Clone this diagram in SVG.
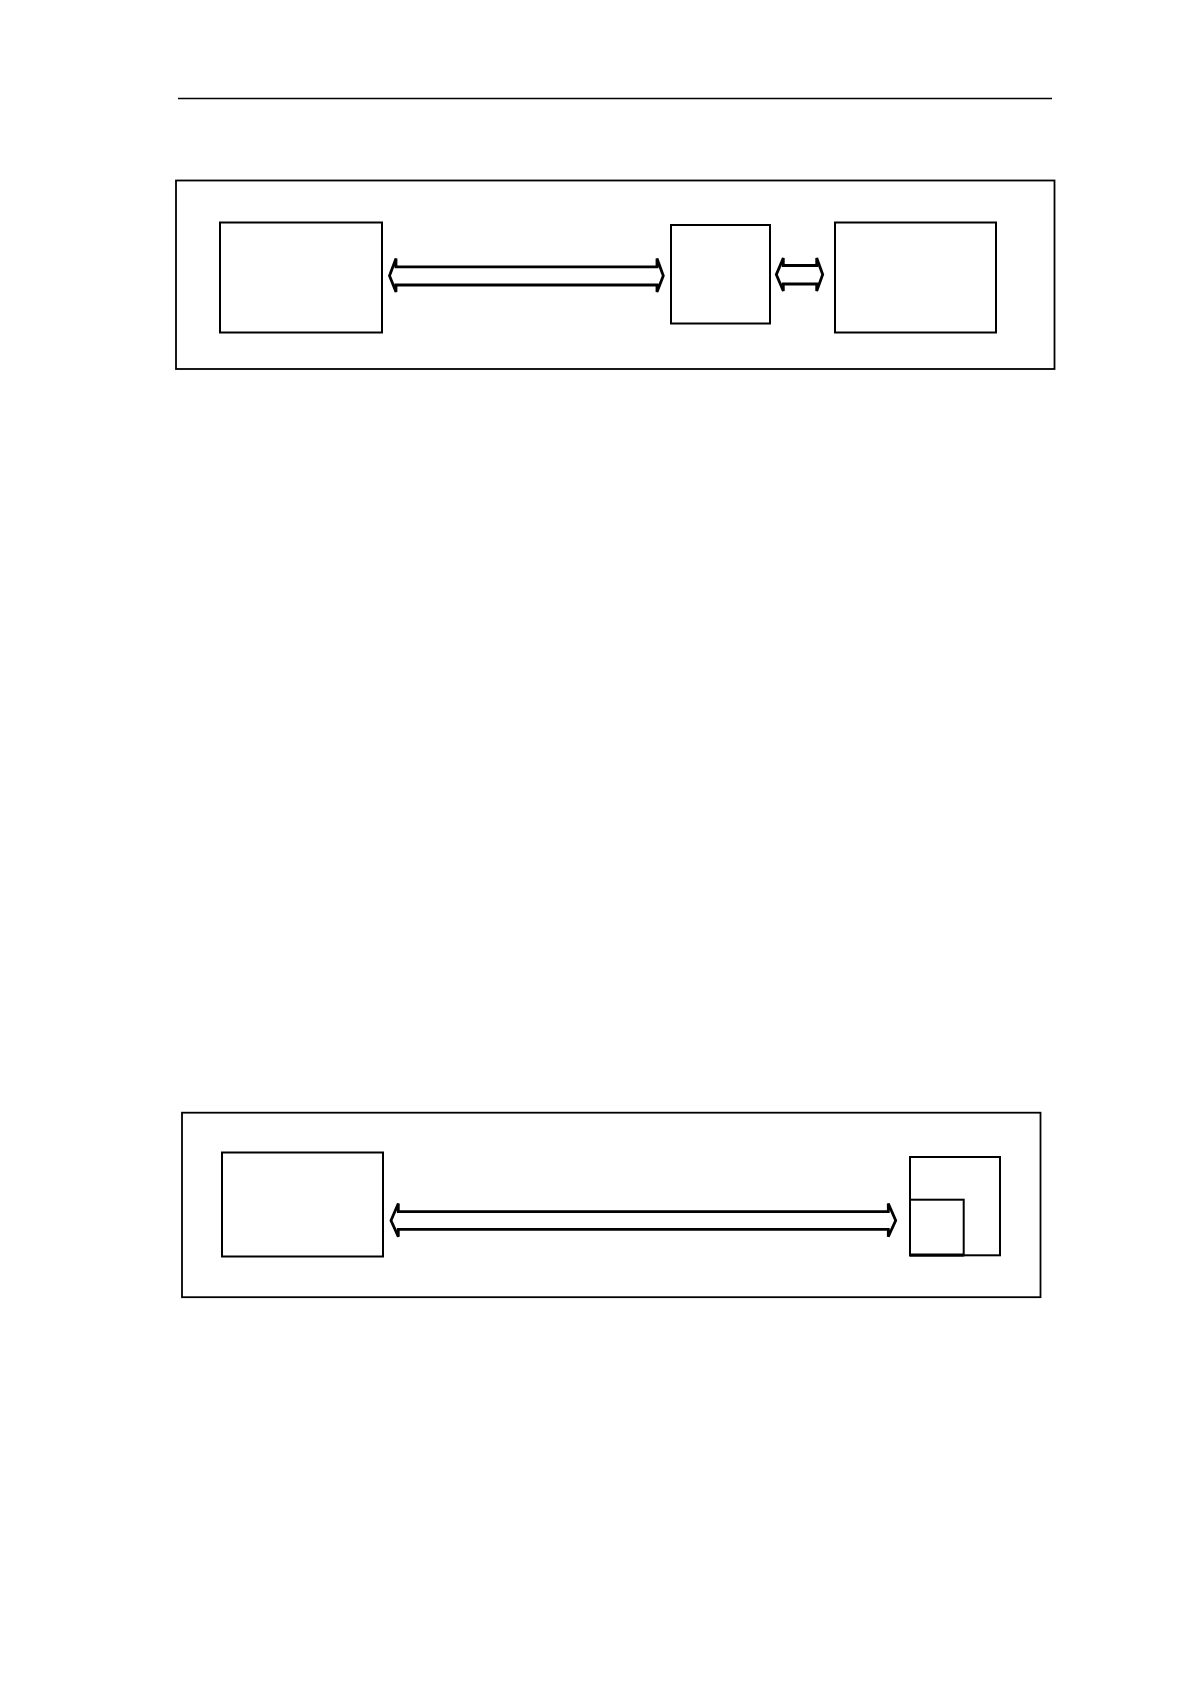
<svg xmlns="http://www.w3.org/2000/svg" width="1190" height="1684" viewBox="0 0 1190 1684">
<style>
.frame{fill:none;stroke:#000;stroke-width:1.8}
.box{fill:none;stroke:#000;stroke-width:2}
.arrow{fill:#fff;stroke:#000;stroke-width:2.8;stroke-linejoin:miter}
</style>
<rect width="1190" height="1684" fill="#fff"/>
<line x1="178" y1="98.5" x2="1052" y2="98.5" stroke="#000" stroke-width="1.4"/>
<g id="frame-top"><rect class="frame" x="176" y="180.5" width="878.5" height="188.5"/></g>
<g id="node-a"><rect class="box" x="220" y="222.5" width="162" height="110"/></g>
<g id="node-b"><rect class="box" x="671" y="225" width="99" height="98.5"/></g>
<g id="node-c"><rect class="box" x="835" y="222.5" width="161" height="110"/></g>
<g id="frame-bottom"><rect class="frame" x="182" y="1112.7" width="858.5" height="184.5"/></g>
<g id="node-d"><rect class="box" x="222" y="1152.5" width="161" height="104"/></g>
<g id="node-e">
<rect class="box" x="910" y="1157" width="90" height="98.3"/>
<rect class="box" x="910" y="1199.7" width="53.7" height="55.6"/>
<line x1="910" y1="1255" x2="963.7" y2="1255" stroke="#000" stroke-width="3.2"/>
</g>
<g id="connectors">
<path class="arrow" d="M389.5,275.8 L396,258.5 L396,266.8 L657,266.8 L657,258.5 L663.3,275.8 L657,292 L657,285 L396,285 L396,292 Z"/>
<path class="arrow" d="M776.3,274.6 L783.3,258 L783.3,265.5 L816.7,265.5 L816.7,258 L822.7,274.6 L816.7,291 L816.7,284 L783.3,284 L783.3,291 Z"/>
<path class="arrow" d="M391,1220.5 L398.3,1203.5 L398.3,1211.7 L888.3,1211.7 L888.3,1203.5 L895.7,1220.5 L888.3,1236.7 L888.3,1229.3 L398.3,1229.3 L398.3,1236.7 Z"/>
</g>
</svg>
